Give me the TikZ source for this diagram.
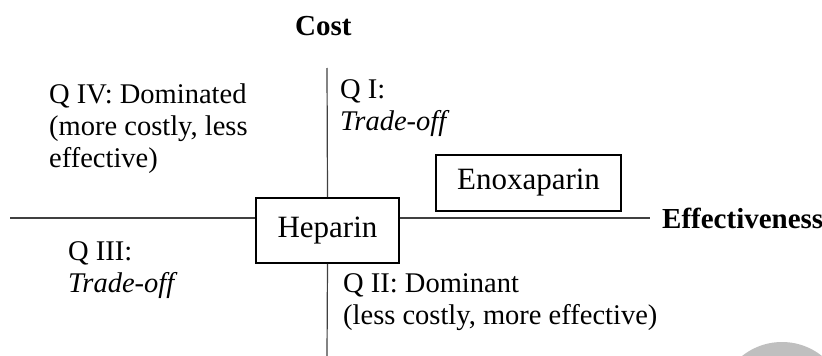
\documentclass[tikz,border=0pt]{standalone}
\usepackage{fontspec}
\setmainfont{Liberation Serif}
\begin{document}
\begin{tikzpicture}[x=1pt,y=-1pt,
  axis/.style={draw=black!75,line width=1.2pt},
  drugbox/.style={draw=black,line width=1.8pt,inner sep=0pt,font=\fontsize{31}{36}\selectfont},
  quad/.style={anchor=base west,inner sep=0pt,align=left,font=\fontsize{28.5}{32}\selectfont},
  axlabel/.style={anchor=base west,inner sep=0pt,font=\fontsize{29}{34}\selectfont\bfseries}]
\useasboundingbox (0,0) rectangle (822,356);
\begin{scope}
\clip (0,0) rectangle (822,356);
\fill[black!25] (782,406) circle[radius=64];
\end{scope}
\node[drugbox,minimum width=143pt,minimum height=65pt] (hep) at (327.5,230.5) {Heparin};
\node[drugbox,minimum width=185pt,minimum height=56pt] (enox) at (528.5,183) {Enoxaparin};
\coordinate (xl) at (10,218);
\coordinate (xr) at (650,218);
\coordinate (yt) at (327,68);
\coordinate (yb) at (327,356);
\draw[axis] (xl) -- (xl -| hep.west);
\draw[axis] (hep.east |- xr) -- (xr);
\draw[axis] (yt) -- (hep.north);
\draw[axis] (hep.south) -- (yb);
\node[axlabel] (cost) at (295,35) {Cost};
\node[axlabel] (eff) at (662,228) {Effectiveness};
\node[quad] (q4) at (49,167) {Q IV: Dominated\\(more costly, less\\effective)};
\node[quad] (q1) at (340,130) {Q I:\\\textit{Trade-off}};
\node[quad] (q3) at (68,292) {Q III:\\\textit{Trade-off}};
\node[quad] (q2) at (343,324) {Q II: Dominant\\(less costly, more effective)};
\end{tikzpicture}
\end{document}
